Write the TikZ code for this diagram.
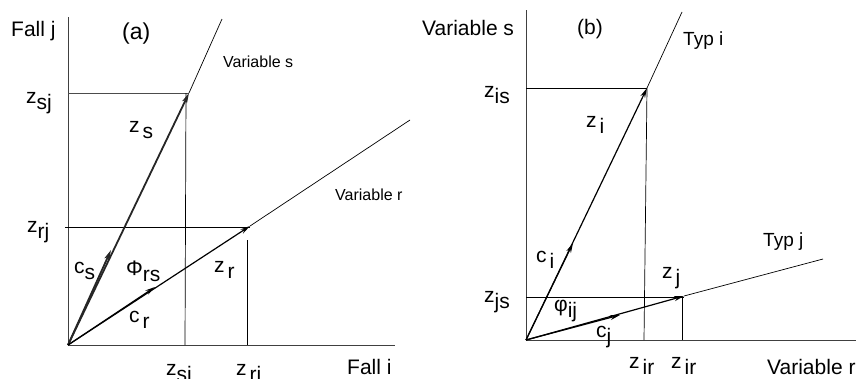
\documentclass[tikz,border=0pt]{standalone}
\usepackage{fontspec}
\setmainfont{Liberation Sans}
\usetikzlibrary{arrows.meta}
\newcommand\zsub[2]{#1\raisebox{-0.3em}{#2}}
\newcommand\zgsub[2]{#1\hspace{3pt}\raisebox{-0.3em}{#2}}
\begin{document}
\begin{tikzpicture}[x=1pt,y=-1pt,
  axis/.style={line width=0.9pt,draw=black!75},
  guide/.style={line width=0.7pt},
  ray/.style={line width=0.7pt},
  vec/.style={line width=1.2pt,-{Stealth[length=10pt,width=5pt]}},
  vecthick/.style={line width=1.8pt,draw=black!85,-{Stealth[length=10pt,width=5pt,inset=2pt]}},
  big/.style={font=\fontsize{21}{23}\selectfont,anchor=base west,inner sep=0pt},
  huge/.style={font=\fontsize{23}{25}\selectfont,anchor=base west,inner sep=0pt},
  mid/.style={font=\fontsize{19}{21}\selectfont,anchor=base west,inner sep=0pt},
  small/.style={font=\fontsize{16}{18}\selectfont,anchor=base west,inner sep=0pt}]
\useasboundingbox (0,0) rectangle (856,378);
% ---------- panel (a)
\coordinate (Oa) at (68,345);
\coordinate (Ya) at (68,17);
\coordinate (Xa) at (395,345);
\coordinate (Sa) at (222,19);
\coordinate (Ra) at (410,120);
\coordinate (ZS) at (189,93);
\coordinate (CS) at (111,250);
\coordinate (ZR) at (250,226);
\coordinate (CR) at (155,287);
\coordinate (HSa) at (68,93);
\coordinate (VSt) at (186,93);
\coordinate (VSb) at (185,345);
\coordinate (HRa) at (65,227);
\coordinate (HRb) at (250,227);
\coordinate (VRt) at (247,240);
\coordinate (VRb) at (247,345);
\draw[axis] (Ya) -- (Oa) -- (Xa);
\draw[guide,draw=black!70] (HSa) -- (ZS);
\draw[guide] (VSt) -- (VSb);
\draw[guide] (HRa) -- (HRb);
\draw[guide] (VRt) -- (VRb);
\draw[ray] (ZS) -- (Sa);
\draw[ray] (ZR) -- (Ra);
\draw[vecthick] (Oa) -- (ZS);
\draw[vecthick] (Oa) -- (CS);
\draw[vec] (Oa) -- (ZR);
\draw[vec] (Oa) -- (CR);
\node[big] (fallj) at (11,36) {Fall j};
\node[huge] (la) at (122,39) {(a)};
\node[small] (vsa) at (223,67) {Variable s};
\node[small] (vra) at (335,200) {Variable r};
\node[big] (zsj) at (26,103) {\zsub{z}{sj}};
\node[big] (zsl) at (129,132) {\zgsub{z}{s}};
\node[big] (zrj) at (27,232) {\zsub{z}{rj}};
\node[big] (csl) at (74,273) {\zsub{c}{s}};
\node[big] (phirs) at (126,275) {\zsub{Φ}{rs}};
\node[big] (zrl) at (214,272) {\zgsub{z}{r}};
\node[big] (crl) at (129,322) {\zgsub{c}{r}};
\node[big] (zsi) at (166,375) {\zsub{z}{si}};
\node[big] (zri) at (236,375) {\zgsub{z}{ri}};
\node[big] (falli) at (347,374) {Fall i};
% ---------- panel (b)
\coordinate (Ob) at (526,340);
\coordinate (Yb) at (526,10);
\coordinate (Xb) at (860,340);
\coordinate (Ib) at (682,12);
\coordinate (Jb) at (823,259);
\coordinate (ZI) at (647,88);
\coordinate (CI) at (573,243);
\coordinate (ZJ) at (684,296);
\coordinate (CJ) at (620,315);
\coordinate (HIa) at (526,88);
\coordinate (VIt) at (647,88);
\coordinate (VIb) at (644,340);
\coordinate (HJa) at (526,297);
\coordinate (HJb) at (684,297);
\coordinate (VJt) at (682,297);
\coordinate (VJb) at (682,340);
\draw[axis] (Yb) -- (Ob) -- (Xb);
\draw[guide] (HIa) -- (ZI);
\draw[guide] (VIt) -- (VIb);
\draw[guide] (HJa) -- (HJb);
\draw[guide] (VJt) -- (VJb);
\draw[ray] (ZI) -- (Ib);
\draw[ray] (ZJ) -- (Jb);
\draw[vec] (Ob) -- (ZI);
\draw[vec] (Ob) -- (CI);
\draw[vec] (Ob) -- (ZJ);
\draw[vec] (Ob) -- (CJ);
\node[big] (vsb) at (422,35) {Variable s};
\node[big] (lb) at (577,34) {(b)};
\node[mid] (typi) at (683,45) {Typ i};
\node[mid] (typj) at (763,246) {Typ j};
\node[big] (zis) at (484,97) {\zsub{z}{is}};
\node[big] (zil) at (586,127) {\zgsub{z}{i}};
\node[big] (cil) at (536,262) {\zgsub{c}{i}};
\node[big] (zjl) at (662,278) {\zgsub{z}{j}};
\node[big] (zjs) at (484,302) {\zsub{z}{js}};
\node[big] (phiij) at (554,311) {\zsub{φ}{ij}};
\node[big] (cjl) at (596,337) {\zsub{c}{j}};
\node[big] (zir1) at (629,368) {\zgsub{z}{ir}};
\node[big] (zir2) at (671,368) {\zgsub{z}{ir}};
\node[big] (vrb) at (767,374) {Variable r};
\end{tikzpicture}
\end{document}
